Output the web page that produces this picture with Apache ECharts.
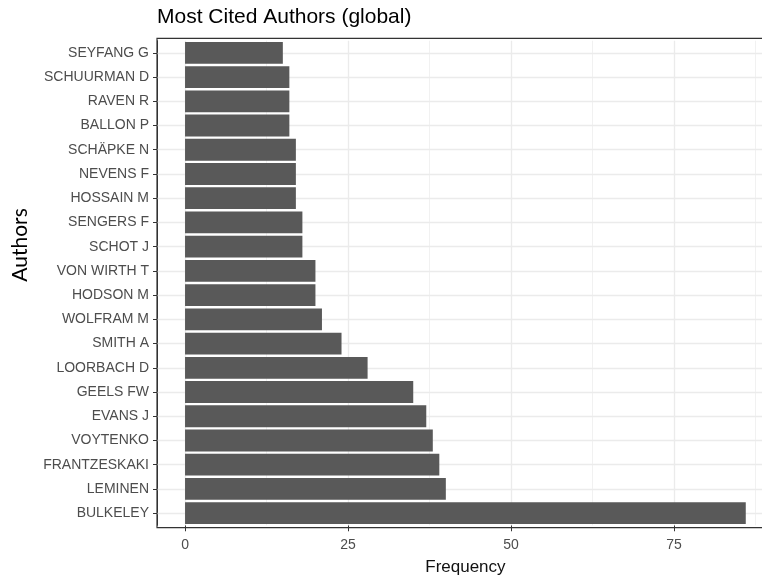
<!DOCTYPE html>
<html>
<head>
<meta charset="utf-8">
<title>Most Cited Authors (global)</title>
<script src="https://cdn.jsdelivr.net/npm/echarts@6/dist/echarts.min.js"></script>
<style>
  html, body { margin: 0; padding: 0; background: #ffffff; overflow: hidden; }
  #chart { width: 762px; height: 577px; }
</style>
</head>
<body>
<div id="chart"></div>
<script>
// Authors, top to bottom
const authors = [
  'SEYFANG G', 'SCHUURMAN D', 'RAVEN R', 'BALLON P', 'SCHÄPKE N',
  'NEVENS F', 'HOSSAIN M', 'SENGERS F', 'SCHOT J', 'VON WIRTH T',
  'HODSON M', 'WOLFRAM M', 'SMITH A', 'LOORBACH D', 'GEELS FW',
  'EVANS J', 'VOYTENKO', 'FRANTZESKAKI', 'LEMINEN', 'BULKELEY'
];
// Citation counts per author
const frequency = [
  15, 16, 16, 16, 17,
  17, 17, 18, 18, 20,
  20, 21, 24, 28, 35,
  37, 38, 39, 40, 86
];
const xTicks = [0, 25, 50, 75];
const xMinorBreaks = [12.5, 37.5, 62.5, 87.5];

// x range padded 5% on each side of [0, max]
const xMax = Math.max(...frequency);
const xPad = xMax * 0.05;

const chart = echarts.init(document.getElementById('chart'), null, { renderer: 'canvas' });

// plotting panel; it runs a little past the right edge of the canvas
const panel = { left: 157, top: 38.3, right: 773.8, bottom: 527.7 };
// discrete axis padded by 0.6 category on each side; ECharts pads 0.5
const step = (panel.bottom - panel.top) / (authors.length + 0.2);
const inset = step * 0.1;

const gridLine = (v, axis, width) => ({
  [axis]: v,
  lineStyle: { color: '#EBEBEB', width: width, type: 'solid' }
});

chart.setOption({
  animation: false,
  backgroundColor: '#ffffff',
  title: {
    text: 'Most Cited Authors (global)',
    left: 157,
    top: 7,
    padding: 0,
    textStyle: { fontFamily: 'Liberation Sans, Arial, sans-serif', fontSize: 21, fontWeight: 'normal', color: '#000000' }
  },
  grid: {
    left: panel.left,
    width: panel.right - panel.left,
    top: panel.top + inset,
    height: panel.bottom - panel.top - 2 * inset,
    outerBoundsMode: 'none',
    containLabel: false
  },
  xAxis: {
    type: 'value',
    min: -xPad,
    max: xMax + xPad,
    name: 'Frequency',
    nameLocation: 'middle',
    nameGap: 34,
    nameTextStyle: { fontFamily: 'Liberation Sans, Arial, sans-serif', fontSize: 17, color: '#111111' },
    axisLine: { show: false },
    axisTick: { show: true, length: 6, customValues: xTicks, lineStyle: { color: '#333333', width: 1 } },
    axisLabel: { customValues: xTicks, margin: 13, color: '#4D4D4D', fontSize: 14, fontFamily: 'Liberation Sans, Arial, sans-serif' },
    splitLine: { show: false }
  },
  yAxis: {
    type: 'category',
    data: authors,
    inverse: true,
    axisLine: { show: true, onZero: false, lineStyle: { color: '#333333', width: 1 } },
    axisTick: { show: true, alignWithLabel: true, length: 4, lineStyle: { color: '#333333', width: 1 } },
    axisLabel: { margin: 8, color: '#4D4D4D', fontSize: 14, fontFamily: 'Liberation Sans, Arial, sans-serif' },
    splitLine: { show: false }
  },
  series: [{
    type: 'bar',
    data: frequency,
    barCategoryGap: '10%',
    itemStyle: { color: '#595959' },
    z: 3,
    markLine: {
      silent: true,
      symbol: 'none',
      z: 1,
      label: { show: false },
      data: [
        ...authors.map(a => gridLine(a, 'yAxis', 1.3)),
        ...xTicks.map(v => gridLine(v, 'xAxis', 1.3)),
        ...xMinorBreaks.map(v => gridLine(v, 'xAxis', 0.7))
      ]
    }
  }],
  graphic: [
    {
      // panel frame: top, left and bottom sides (the right side lies past the canvas)
      type: 'polyline',
      z: 100,
      silent: true,
      shape: {
        points: [
          [panel.right, panel.top], [panel.left, panel.top],
          [panel.left, panel.bottom], [panel.right, panel.bottom]
        ]
      },
      style: { fill: 'none', stroke: '#333333', lineWidth: 1.2 }
    },
    {
      type: 'text',
      z: 100,
      x: 20,
      y: 245,
      rotation: Math.PI / 2,
      style: {
        text: 'Authors',
        fontFamily: 'Lato, Open Sans, sans-serif',
        fontSize: 21,
        fill: '#000000',
        align: 'center',
        verticalAlign: 'middle'
      }
    }
  ]
});
</script>
</body>
</html>
